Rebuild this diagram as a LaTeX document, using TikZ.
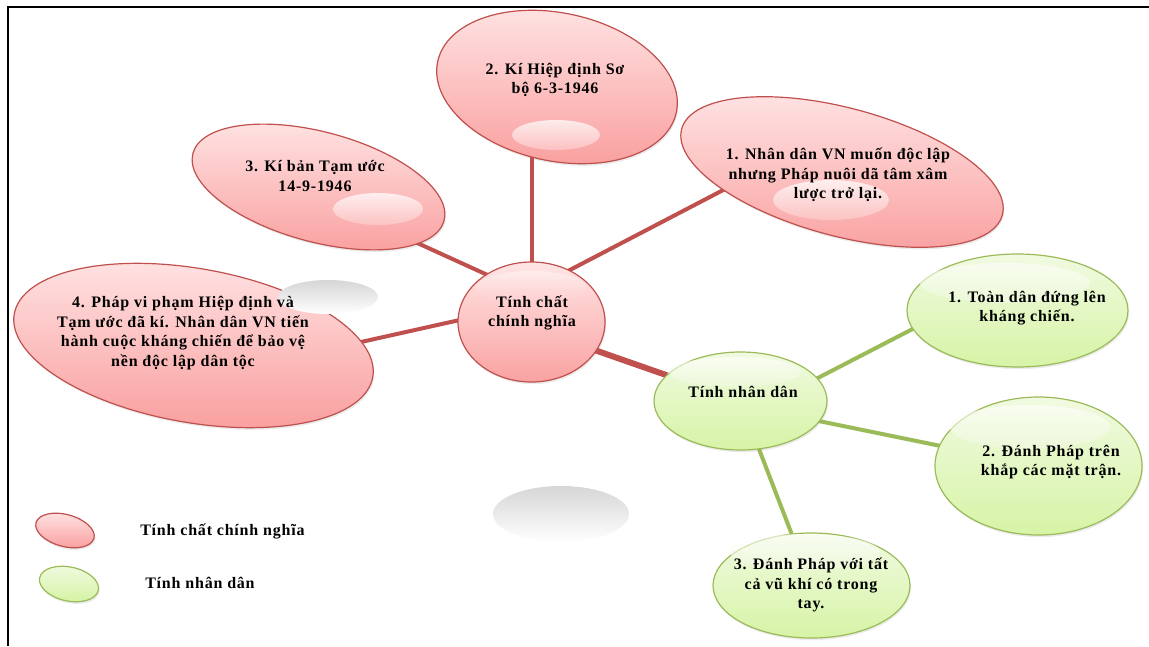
\documentclass[tikz,border=0pt]{standalone}
\usepackage{fontspec}
\setmainfont{Liberation Serif}
\newfontfamily\labelfont[LetterSpace=5]{Liberation Serif}
\usetikzlibrary{shapes.geometric,shadows,backgrounds,calc}
\definecolor{redline}{RGB}{192,80,77}
\definecolor{redtop}{RGB}{255,229,229}
\definecolor{redbot}{RGB}{250,162,162}
\definecolor{greenline}{RGB}{155,187,89}
\definecolor{greentop}{RGB}{241,250,225}
\definecolor{greenbot}{RGB}{214,244,166}
\definecolor{blobgray}{RGB}{214,214,214}
\begin{document}
\begin{tikzpicture}[x=0.75pt,y=-0.75pt,
  ax/.style 2 args={minimum width={#1*1.5pt}, minimum height={#2*1.5pt}},
  bub/.style={ellipse, inner sep=0pt, outer sep=0pt, line width=0.9pt,
    drop shadow={shadow xshift=0.8pt, shadow yshift=-1.6pt, opacity=0.16}},
  redbub/.style={bub, draw=redline, top color=redtop, bottom color=redbot},
  greenbub/.style={bub, draw=greenline, top color=greentop, bottom color=greenbot},
  txt/.style={align=center, inner sep=0pt,
    font=\labelfont\fontsize{12}{14.6}\selectfont\bfseries},
  redconn/.style={draw=redline, line width=3pt},
  greenconn/.style={draw=greenline, line width=3pt},
  redgloss/.style={top color=white, bottom color=redtop!60!redbot, fill opacity=0.75},
  greengloss/.style={top color=white, bottom color=greentop, fill opacity=0.6},
  blob/.style={top color=blobgray, bottom color=white}
]
\useasboundingbox (0,0) rectangle (1149,646);

% page frame (top and left edges)
\draw[line width=1.5pt] (8,646) -- (8,7) -- (1149,7);

% ---- bubbles: "Tinh chat chinh nghia" branch
\node[redbub, ax={182}{77}, rotate=-10] (n4) at (193.5,345.5) {};
\node[redbub, ax={130}{55}, rotate=-15] (n3) at (318.5,187) {};
\node[redbub, ax={122}{74}, rotate=-12] (n2) at (557,87) {};
\node[redbub, ax={166}{64}, rotate=-15] (n1) at (842,172) {};
\node[redbub, ax={73.5}{60}] (c) at (531.5,322) {};

% ---- bubbles: "Tinh nhan dan" branch
\node[greenbub, ax={86.5}{49}] (nd) at (740.5,401) {};
\node[greenbub, ax={110.5}{56.5}] (g1) at (1017.5,310.5) {};
\node[greenbub, ax={103.5}{69}] (g2) at (1038.5,466) {};
\node[greenbub, ax={98.5}{52.5}] (g3) at (811.5,585.5) {};

% ---- legend swatches
\node[redbub, ax={30}{16}, rotate=-15] (lr) at (65,530.5) {};
\node[greenbub, ax={30}{17}, rotate=-12] (lg) at (69,584) {};

% ---- connectors, kept behind the bubbles
\begin{scope}[on background layer]
  \draw[redconn] ($(c)+(0,-27)$) -- ($(n3)+(0,11)$);
  \draw[redconn] (c) -- (c |- n2);
  \draw[redconn] ($(c)+(0,-32)$) -- ($(n1)+(-42,-22)$);
  \draw[redconn] ($(c)+(0,-18)$) -- ($(n4)+(107,10)$);
  \draw[redconn, line width=4.5pt] ($(c)+(0,6)$) -- (nd);
  \draw[greenconn] ($(nd)+(0,17)$) -- ($(g1)+(-57.5,-6)$);
  \draw[greenconn] ($(nd)+(0,4)$) -- (g2);
  \draw[greenconn] (nd) -- (g3);
\end{scope}

% ---- glossy highlights
\shade[redgloss] (556,135) ellipse [x radius=44, y radius=15];
\shade[redgloss] (378,209) ellipse [x radius=45, y radius=16];
\shade[redgloss] (831,200) ellipse [x radius=58, y radius=20];
\shade[redgloss, fill opacity=0.4] (531,288) ellipse [x radius=55, y radius=17];
\shade[greengloss] (735,372) ellipse [x radius=66, y radius=15];
\shade[greengloss] (1005,283) ellipse [x radius=85, y radius=20];
\shade[greengloss] (1030,427) ellipse [x radius=80, y radius=22];
\shade[greengloss] (805,552) ellipse [x radius=75, y radius=18];

% ---- grey blobs
\shade[blob] (328,297) ellipse [x radius=50, y radius=17];
\shade[blob] (561,514) ellipse [x radius=68, y radius=28];

% ---- texts
\node[txt] (t2) at (555,80) {2. Kí Hiệp định Sơ\\bộ 6-3-1946};
\node[txt] (t3) at (315,176) {3. Kí bản Tạm ước\\14-9-1946};
\node[txt] (t1) at (838,175) {1. Nhân dân VN muốn độc lập\\nhưng Pháp nuôi dã tâm xâm\\lược trở lại.};
\node[txt] (t4) at (183,333) {4. Pháp vi phạm Hiệp định và\\Tạm ước đã kí. Nhân dân VN tiến\\hành cuộc kháng chiến để bảo vệ\\nền độc lập dân tộc};
\node[txt] (tc) at (532,313) {Tính chất\\chính nghĩa};
\node[txt] (tnd) at (743,392) {Tính nhân dân};
\node[txt] (tg1) at (1027,308) {1. Toàn dân đứng lên\\kháng chiến.};
\node[txt] (tg2) at (1051,462) {2. Đánh Pháp trên\\khắp các mặt trận.};
\node[txt] (tg3) at (811,585) {3. Đánh Pháp với tất\\cả vũ khí có trong\\tay.};
\node[txt, anchor=west] (tlr) at (140,531) {Tính chất chính nghĩa};
\node[txt, anchor=west] (tlg) at (145,583) {Tính nhân dân};
\end{tikzpicture}
\end{document}
